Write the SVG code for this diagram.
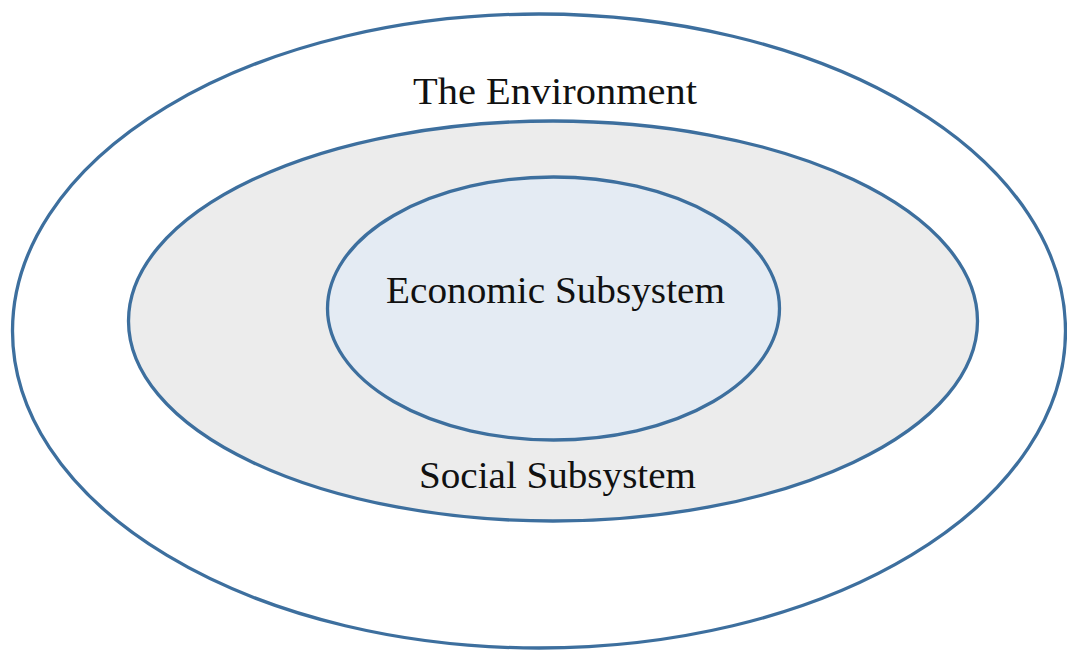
<svg xmlns="http://www.w3.org/2000/svg" width="1067" height="650" viewBox="0 0 1067 650">
<style>
.ring{stroke:#3d6f9e;stroke-width:3.3}
.lbl{font-family:"Liberation Serif","DejaVu Serif",serif;font-size:37px;fill:#111}
</style>
<rect width="1067" height="650" fill="#fff"/>
<g id="environment">
<ellipse class="ring" cx="539" cy="331" rx="526.5" ry="317" fill="#fff"/>
<text class="lbl" x="413" y="104" textLength="284" lengthAdjust="spacingAndGlyphs">The Environment</text>
</g>
<g id="social">
<ellipse class="ring" cx="553" cy="321" rx="424.5" ry="200" fill="#ececec"/>
<text class="lbl" x="419" y="488" textLength="277" lengthAdjust="spacingAndGlyphs">Social Subsystem</text>
</g>
<g id="economic">
<ellipse class="ring" cx="553.5" cy="308.5" rx="226" ry="131.5" fill="#e4ebf3"/>
<text class="lbl" x="386" y="303" textLength="339" lengthAdjust="spacingAndGlyphs">Economic Subsystem</text>
</g>
<g id="connectors"/>
</svg>
